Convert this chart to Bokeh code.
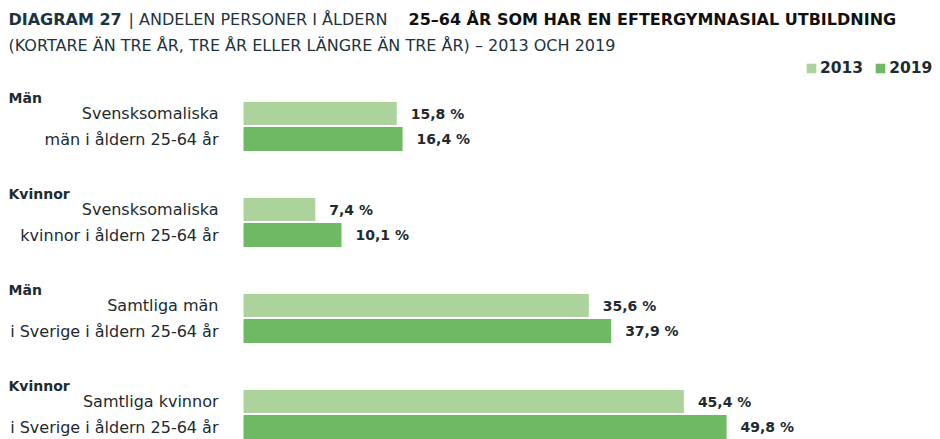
from bokeh.plotting import figure
from bokeh.models import Range1d, Label, ColumnDataSource
from bokeh.embed import file_html
from bokeh.resources import INLINE
from bokeh.core.properties import value

# ---- data ----
groups = ["Män", "Kvinnor", "Män", "Kvinnor"]
label_line1 = ["Svensksomaliska", "Svensksomaliska", "Samtliga män", "Samtliga kvinnor"]
label_line2 = ["män i åldern 25-64 år", "kvinnor i åldern 25-64 år",
               "i Sverige i åldern 25-64 år", "i Sverige i åldern 25-64 år"]
values_2013 = [15.8, 7.4, 35.6, 45.4]
values_2019 = [16.4, 10.1, 37.9, 49.8]
years = ["2013", "2019"]

LIGHT = "#abd39b"
DARK = "#6fb964"
TXT = "#222a2e"
TITLE = "#1d3440"

# layout: picture pixels -> data
X0 = 243.0      # pixel x of zero
SCALE = 9.7     # px per percentage point
def px(xp):
    return (xp - X0) / SCALE

W, H = 940, 439
p = figure(width=W, height=H, output_backend="svg", toolbar_location=None,
           x_range=Range1d(px(0), px(W)), y_range=Range1d(H, 0),
           min_border=0, outline_line_color=None, background_fill_color="white",
           border_fill_color="white")
p.axis.visible = False
p.grid.visible = False

n = len(groups)
GAP = 96
y13 = [113 + GAP * i for i in range(n)]
y19 = [138.5 + GAP * i for i in range(n)]
yhead = [97 + GAP * i for i in range(n)]

def fmt(v):
    return f"{v:.1f} %".replace(".", ",")

src13 = ColumnDataSource(dict(y=y13, v=values_2013, t=[fmt(v) for v in values_2013]))
src19 = ColumnDataSource(dict(y=y19, v=values_2019, t=[fmt(v) for v in values_2019]))

p.hbar(y="y", right="v", left=0, height=23, source=src13, fill_color=LIGHT,
       line_color=None, legend_label=years[0])
p.hbar(y="y", right="v", left=0, height=24, source=src19, fill_color=DARK,
       line_color=None, legend_label=years[1])

for s in (src13, src19):
    p.text(x="v", y="y", text="t", source=s, x_offset=14,
           text_font=value("DejaVu Sans"), text_font_style="bold",
           text_font_size="14px", text_color=TXT, text_baseline="middle")

# group headers
p.text(x=[px(8)] * n, y=yhead, text=groups, text_font=value("DejaVu Sans"),
       text_font_style="bold", text_font_size="14px", text_color="#1d2b30",
       text_baseline="middle")

# category labels
p.text(x=[0] * n, y=y13, text=label_line1, x_offset=-25,
       text_font=value("DejaVu Sans"), text_font_size="16px", text_color=TXT,
       text_align="right", text_baseline="middle")
p.text(x=[0] * n, y=y19, text=label_line2, x_offset=-25,
       text_font=value("DejaVu Sans"), text_font_size="16px", text_color=TXT,
       text_align="right", text_baseline="middle")

# title
tfs = "16px"
p.add_layout(Label(x=px(8), y=19, text="DIAGRAM 27", text_font="DejaVu Sans",
                   text_font_style="bold", text_font_size=tfs, text_color=TITLE,
                   text_baseline="middle"))
p.add_layout(Label(x=px(128), y=19, text="| ANDELEN PERSONER I ÅLDERN", text_font="DejaVu Sans",
                   text_font_size=tfs, text_color=TITLE, text_baseline="middle"))
p.add_layout(Label(x=px(408), y=19, text="25–64 ÅR SOM HAR EN EFTERGYMNASIAL UTBILDNING",
                   text_font="DejaVu Sans", text_font_style="bold", text_font_size=tfs,
                   text_color="#111111", text_baseline="middle"))
p.add_layout(Label(x=px(8), y=45,
                   text="(KORTARE ÄN TRE ÅR, TRE ÅR ELLER LÄNGRE ÄN TRE ÅR) – 2013 OCH 2019",
                   text_font="DejaVu Sans", text_font_size=tfs, text_color=TITLE,
                   text_baseline="middle"))

lg = p.legend[0]
lg.location = (805, 362)
lg.orientation = "horizontal"
lg.border_line_color = None
lg.background_fill_alpha = 0
lg.padding = 0
lg.margin = 0
lg.spacing = 11
lg.glyph_width = 12
lg.glyph_height = 12
lg.label_standoff = 3
lg.label_text_font = "DejaVu Sans"
lg.label_text_font_style = "bold"
lg.label_text_font_size = "15.5px"
lg.label_text_color = TXT

open("out.html", "w").write(file_html(p, INLINE))
